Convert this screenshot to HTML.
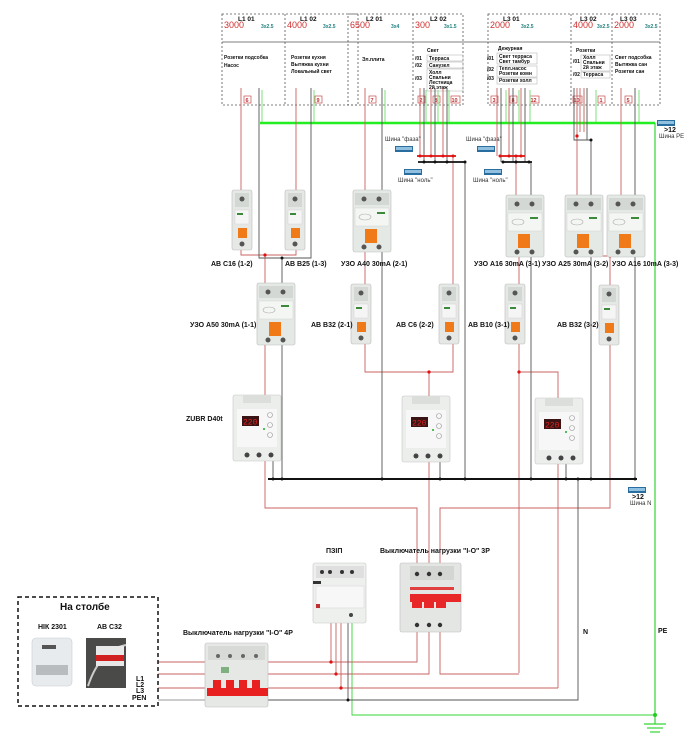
<!DOCTYPE html>
<html><head><meta charset="utf-8"><style>
html,body{margin:0;padding:0;background:#fff;}
svg{display:block;font-family:"Liberation Sans",sans-serif;}
.b{font-weight:bold;font-size:7px;fill:#111}
.s{font-size:6px;fill:#333}
</style></head><body>
<svg width="696" height="750" viewBox="0 0 696 750" xmlns="http://www.w3.org/2000/svg">
<defs>
<g id="ab1">
 <rect x="0" y="0" width="20" height="60" rx="2" fill="#e6e8e6" stroke="#b8bcb8" stroke-width="0.6"/>
 <rect x="3" y="3" width="14" height="14" fill="#d4d8d4"/>
 <circle cx="10" cy="9" r="2.5" fill="#555"/>
 <rect x="3" y="20" width="14" height="14" fill="#f4f5f4" stroke="#ccc" stroke-width="0.4"/>
 <rect x="5" y="23" width="6" height="2" fill="#3a8a3a"/>
 <rect x="6" y="38" width="9" height="10" fill="#f07a18"/>
 <circle cx="10" cy="54" r="2.5" fill="#555"/>
</g>
<g id="uzo">
 <rect x="0" y="0" width="38" height="62" rx="2" fill="#e5e9e5" stroke="#b8bcb8" stroke-width="0.6"/>
 <rect x="2" y="3" width="34" height="12" fill="#d4d8d4"/>
 <circle cx="11" cy="9" r="2.5" fill="#555"/><circle cx="26" cy="9" r="2.5" fill="#555"/>
 <rect x="2" y="18" width="34" height="18" fill="#f4f6f4" stroke="#ccc" stroke-width="0.4"/>
 <ellipse cx="12" cy="27" rx="6" ry="3" fill="none" stroke="#aaa" stroke-width="0.6"/>
 <rect x="24" y="22" width="8" height="2" fill="#3a8a3a"/>
 <rect x="12" y="39" width="12" height="14" fill="#f07a18"/>
 <circle cx="11" cy="57" r="2.5" fill="#555"/><circle cx="26" cy="57" r="2.5" fill="#555"/>
</g>
<g id="zubr">
 <rect x="0" y="0" width="48" height="66" rx="2" fill="#eceeec" stroke="#c4c6c4" stroke-width="0.6"/>
 <rect x="10" y="0" width="28" height="8" fill="#dcdedc"/>
 <rect x="4" y="14" width="40" height="38" fill="#f6f7f6"/>
 <rect x="9" y="21" width="17" height="10" fill="#3a1414"/>
 <text x="10" y="29.5" font-size="8" fill="#e02020" font-family="Liberation Mono,monospace">220</text>
 <circle cx="37" cy="20" r="2.5" fill="none" stroke="#999" stroke-width="0.6"/>
 <circle cx="37" cy="30" r="2.5" fill="none" stroke="#999" stroke-width="0.6"/>
 <circle cx="37" cy="40" r="2.5" fill="none" stroke="#999" stroke-width="0.6"/>
 <circle cx="31" cy="34" r="1" fill="#2a2"/>
 <circle cx="14" cy="60" r="2.5" fill="#444"/><circle cx="26" cy="60" r="2.5" fill="#444"/><circle cx="38" cy="60" r="2.5" fill="#444"/>
</g>
<g id="bus">
 <rect x="0" y="0" width="18" height="6" fill="#2a6ea0"/>
 <rect x="1" y="1" width="16" height="3" fill="#8fc0e0"/>
</g>
</defs>

<g fill="none" stroke="#555" stroke-width="0.8" stroke-dasharray="2,2">
 <rect x="222" y="14" width="136" height="91"/>
 <line x1="285" y1="14" x2="285" y2="105"/>
 <rect x="348" y="14" width="115" height="91"/>
 <line x1="413" y1="14" x2="413" y2="105"/>
 <rect x="488" y="14" width="172" height="91"/>
 <line x1="571" y1="14" x2="571" y2="105"/>
 <line x1="612" y1="14" x2="612" y2="105"/>
</g>
<line x1="222" y1="42" x2="660" y2="42" stroke="#555" stroke-width="0.8"/>
<g class="b" style="font-size:6.5px">
 <text x="238" y="21">L1 01</text><text x="300" y="21">L1 02</text>
 <text x="366" y="21">L2 01</text><text x="430" y="21">L2 02</text>
 <text x="503" y="21">L3 01</text><text x="580" y="21">L3 02</text><text x="620" y="21">L3 03</text>
</g>
<g font-size="9" fill="#d03030">
 <text x="224" y="28">3000</text><text x="287" y="28">4000</text><text x="350" y="28">6500</text>
 <text x="415" y="28">300</text><text x="490" y="28">2000</text><text x="573" y="28">4000</text><text x="614" y="28">2000</text>
</g>
<g font-size="5" fill="#208080" font-weight="bold">
 <text x="261" y="28">3x2.5</text><text x="323" y="28">3x2.5</text><text x="391" y="28">3x4</text>
 <text x="444" y="28">3x1.5</text><text x="521" y="28">3x2.5</text><text x="597" y="28">3x2.5</text><text x="645" y="28">3x2.5</text>
</g>
<g class="b" style="font-size:5px">
 <text x="224" y="59">Розетки подсобка</text><text x="224" y="67">Насос</text>
 <text x="291" y="59">Розетки кухня</text><text x="291" y="66">Вытяжка кухни</text><text x="291" y="73">Локальный свет</text>
 <text x="362" y="61">Эл.плита</text>
 <text x="427" y="52">Свет</text>
 <text x="415" y="60">/01</text><text x="415" y="67">/02</text><text x="415" y="80">/03</text>
 <text x="429" y="60">Терраса</text><text x="429" y="67">Санузел</text><text x="429" y="74">Холл</text><text x="429" y="79">Спальни</text><text x="429" y="84">Лестница</text><text x="429" y="89">2й этаж</text>
 <text x="498" y="50">Дежурная</text>
 <text x="487" y="60">/01</text><text x="487" y="71">/02</text><text x="487" y="80">/03</text>
 <text x="499" y="58">Свет терраса</text><text x="499" y="63">Свет тамбур</text><text x="499" y="70">Тепл.насос</text><text x="499" y="75">Розетки комн</text><text x="499" y="82">Розетки холл</text>
 <text x="576" y="52">Розетки</text>
 <text x="573" y="63">/01</text><text x="573" y="76">/02</text>
 <text x="583" y="59">Холл</text><text x="583" y="64">Спальни</text><text x="583" y="69">2й этаж</text><text x="583" y="76">Терраса</text>
 <text x="615" y="59">Свет подсобка</text><text x="615" y="66">Вытяжка сан</text><text x="615" y="73">Розетки сан</text>
</g>
<g fill="none" stroke="#aaa" stroke-width="0.5">
 <rect x="427" y="55" width="36" height="6"/><rect x="427" y="62" width="36" height="6"/><rect x="427" y="69" width="36" height="22"/>
 <rect x="497" y="53" width="40" height="11"/><rect x="497" y="66" width="40" height="11"/><rect x="497" y="78" width="40" height="6"/>
 <rect x="581" y="55" width="29" height="16"/><rect x="581" y="72" width="29" height="6"/>
</g>
<g font-size="5.5" fill="#c03030" font-weight="bold">
 <rect x="244" y="96" width="7" height="7" fill="#fff" stroke="#c03030" stroke-width="0.6"/><text x="245.5" y="102">6</text>
 <rect x="315" y="96" width="7" height="7" fill="#fff" stroke="#c03030" stroke-width="0.6"/><text x="316.5" y="102">9</text>
 <rect x="369" y="96" width="7" height="7" fill="#fff" stroke="#c03030" stroke-width="0.6"/><text x="370.5" y="102">7</text>
 <rect x="418" y="96" width="7" height="7" fill="#fff" stroke="#c03030" stroke-width="0.6"/><text x="419.5" y="102">2</text>
 <rect x="433" y="96" width="7" height="7" fill="#fff" stroke="#c03030" stroke-width="0.6"/><text x="434.5" y="102">8</text>
 <rect x="451" y="96" width="9" height="7" fill="#fff" stroke="#c03030" stroke-width="0.6"/><text x="451.5" y="102">10</text>
 <rect x="491" y="96" width="7" height="7" fill="#fff" stroke="#c03030" stroke-width="0.6"/><text x="492.5" y="102">3</text>
 <rect x="510" y="96" width="7" height="7" fill="#fff" stroke="#c03030" stroke-width="0.6"/><text x="511.5" y="102">8</text>
 <rect x="530" y="96" width="9" height="7" fill="#fff" stroke="#c03030" stroke-width="0.6"/><text x="530.5" y="102">12</text>
 <rect x="573" y="96" width="9" height="7" fill="#fff" stroke="#c03030" stroke-width="0.6"/><text x="573.5" y="102">10</text>
 <rect x="598" y="96" width="7" height="7" fill="#fff" stroke="#c03030" stroke-width="0.6"/><text x="599.5" y="102">1</text>
 <rect x="625" y="96" width="7" height="7" fill="#fff" stroke="#c03030" stroke-width="0.6"/><text x="626.5" y="102">5</text>
</g>

<g stroke="#7ee07e" stroke-width="1" fill="none">
 <line x1="262" y1="90" x2="262" y2="123"/><line x1="314" y1="90" x2="314" y2="123"/><line x1="385" y1="90" x2="385" y2="123"/>
 <line x1="426" y1="90" x2="426" y2="123"/><line x1="438" y1="90" x2="438" y2="123"/><line x1="449" y1="90" x2="449" y2="123"/>
 <line x1="506" y1="90" x2="506" y2="123"/><line x1="519" y1="90" x2="519" y2="123"/><line x1="530" y1="90" x2="530" y2="123"/>
 <line x1="584" y1="90" x2="584" y2="123"/><line x1="596" y1="90" x2="596" y2="123"/><line x1="639" y1="90" x2="639" y2="123"/>
</g>
<g stroke="#33d633" stroke-width="1.2" fill="none">
 <line x1="655" y1="123" x2="655" y2="715"/>
 <polyline points="352,623 352,715 655,715" stroke-width="0.9"/>
 <line x1="644" y1="724" x2="666" y2="724"/><line x1="647" y1="728" x2="663" y2="728"/><line x1="650" y1="732" x2="660" y2="732"/>
 <line x1="655" y1="715" x2="655" y2="724"/>
</g>
<line x1="260" y1="123" x2="655" y2="123" stroke="#22ee22" stroke-width="2.5"/>
<g fill="#22cc22"><circle cx="655" cy="715" r="2"/></g>

<g stroke="#c86060" stroke-width="0.9" fill="none">
 <line x1="241" y1="88" x2="241" y2="190"/><line x1="296" y1="88" x2="296" y2="190"/>
 <polyline points="241,250 241,255 296,255 296,250"/><line x1="265" y1="255" x2="265" y2="283"/>
 <line x1="365" y1="88" x2="365" y2="190"/>
 <line x1="420" y1="88" x2="420" y2="156"/><line x1="431" y1="88" x2="431" y2="156"/><line x1="443" y1="88" x2="443" y2="156"/>
 <line x1="453" y1="156" x2="453" y2="284"/>
 <line x1="365" y1="252" x2="365" y2="284"/>
 <polyline points="365,342 365,372 453,372 453,342"/><line x1="429" y1="372" x2="429" y2="396"/>
 <line x1="497" y1="88" x2="497" y2="156"/><line x1="509" y1="88" x2="509" y2="156"/><line x1="521" y1="88" x2="521" y2="156"/>
 <line x1="516" y1="156" x2="516" y2="195"/>
 <line x1="519" y1="255" x2="519" y2="284"/>
 <line x1="519" y1="342" x2="519" y2="673"/>
 <polyline points="519,372 558,372 558,398"/>
 <line x1="577" y1="88" x2="577" y2="136"/><line x1="580" y1="88" x2="580" y2="132"/><line x1="584" y1="88" x2="584" y2="132"/>
 <polyline points="577,136 577,195"/><line x1="621" y1="88" x2="621" y2="195"/>
 <polyline points="578,255 578,256 621,256 621,255"/><line x1="610" y1="256" x2="610" y2="285"/>
 <line x1="265" y1="345" x2="265" y2="395"/>
 <polyline points="265,460 265,508 417,508 417,563"/>
 <line x1="429" y1="460" x2="429" y2="563"/>
 <polyline points="440,563 440,508 610,508 610,343"/>
 <line x1="558" y1="464" x2="558" y2="688"/>
 <polyline points="417,632 417,662 268,662"/>
 <polyline points="429,632 429,674 268,674"/>
 <polyline points="440,632 440,674 519,674"/>
 <line x1="268" y1="688" x2="558" y2="688"/>
 <line x1="158" y1="662" x2="205" y2="662"/><line x1="158" y1="674" x2="205" y2="674"/><line x1="158" y1="688" x2="205" y2="688"/>
 <line x1="331" y1="623" x2="331" y2="662"/><line x1="336" y1="623" x2="336" y2="674"/><line x1="341" y1="623" x2="341" y2="688"/>
</g>
<g stroke="#555" stroke-width="0.9" fill="none">
 <polyline points="259,88 259,258 311,258 311,88"/><line x1="282" y1="258" x2="282" y2="283"/>
 <line x1="382" y1="88" x2="382" y2="479"/>
 <line x1="424" y1="88" x2="424" y2="162"/><line x1="435" y1="88" x2="435" y2="162"/><line x1="447" y1="88" x2="447" y2="162"/>
 <line x1="465" y1="162" x2="465" y2="479"/>
 <line x1="501" y1="88" x2="501" y2="162"/><line x1="513" y1="88" x2="513" y2="162"/><line x1="525" y1="88" x2="525" y2="162"/>
 <line x1="531" y1="162" x2="531" y2="479"/>
 <polyline points="574,88 574,140 591,140 591,479"/><line x1="587" y1="88" x2="587" y2="140"/>
 <line x1="635" y1="88" x2="635" y2="479"/>
 <line x1="282" y1="345" x2="282" y2="479"/>
 <line x1="273" y1="460" x2="273" y2="479"/><line x1="440" y1="460" x2="440" y2="479"/><line x1="566" y1="464" x2="566" y2="479"/>
 <polyline points="578,479 578,700 268,700"/>
 <line x1="158" y1="700" x2="205" y2="700" stroke="#999"/>
 <line x1="348" y1="623" x2="348" y2="700"/>
</g>
<line x1="268" y1="479" x2="637" y2="479" stroke="#111" stroke-width="2"/>
<g fill="#111">
 <circle cx="273" cy="479" r="1.5"/><circle cx="282" cy="479" r="1.5"/><circle cx="382" cy="479" r="1.5"/><circle cx="440" cy="479" r="1.5"/>
 <circle cx="465" cy="479" r="1.5"/><circle cx="531" cy="479" r="1.5"/><circle cx="566" cy="479" r="1.5"/><circle cx="578" cy="479" r="1.5"/>
 <circle cx="591" cy="479" r="1.5"/><circle cx="635" cy="479" r="1.5"/><circle cx="282" cy="258" r="1.5"/><circle cx="591" cy="140" r="1.5"/>
 <circle cx="348" cy="700" r="1.5"/>
</g>
<line x1="417" y1="156" x2="456" y2="156" stroke="#e01010" stroke-width="1.8"/>
<line x1="418" y1="162" x2="466" y2="162" stroke="#111" stroke-width="1.8"/>
<line x1="499" y1="156" x2="525" y2="156" stroke="#e01010" stroke-width="1.8"/>
<line x1="502" y1="162" x2="532" y2="162" stroke="#111" stroke-width="1.8"/>
<g fill="#e01010">
 <circle cx="420" cy="156" r="1.5"/><circle cx="431" cy="156" r="1.5"/><circle cx="443" cy="156" r="1.5"/><circle cx="453" cy="156" r="1.5"/>
 <circle cx="500" cy="156" r="1.5"/><circle cx="509" cy="156" r="1.5"/><circle cx="516" cy="156" r="1.5"/><circle cx="521" cy="156" r="1.5"/>
 <circle cx="265" cy="255" r="1.6"/><circle cx="429" cy="372" r="1.6"/><circle cx="519" cy="372" r="1.6"/><circle cx="610" cy="256" r="1.6"/><circle cx="577" cy="136" r="1.6"/>
 <circle cx="331" cy="662" r="1.6"/><circle cx="336" cy="674" r="1.6"/><circle cx="341" cy="688" r="1.6"/>
</g>
<g fill="#111"><circle cx="424" cy="162" r="1.5"/><circle cx="435" cy="162" r="1.5"/><circle cx="447" cy="162" r="1.5"/><circle cx="465" cy="162" r="1.5"/>
<circle cx="503" cy="162" r="1.5"/><circle cx="516" cy="162" r="1.5"/><circle cx="529" cy="162" r="1.5"/></g>
<use href="#bus" x="395" y="146"/><use href="#bus" x="404" y="169"/>
<use href="#bus" x="477" y="146"/><use href="#bus" x="484" y="169"/>
<use href="#bus" x="657" y="120"/><use href="#bus" x="628" y="487"/>
<g class="s" font-size="5.5">
 <text x="385" y="141">Шина "фаза"</text><text x="398" y="182">Шина "ноль"</text>
 <text x="466" y="141">Шина "фаза"</text><text x="473" y="182">Шина "ноль"</text>
 <text x="659" y="138">Шина PE</text><text x="630" y="505">Шина N</text>
</g>
<g class="b" font-size="5.5"><text x="664" y="132">&gt;12</text><text x="632" y="499">&gt;12</text></g>

<use href="#ab1" x="232" y="190"/><use href="#ab1" x="285" y="190"/>
<use href="#uzo" x="353" y="190"/><use href="#uzo" x="506" y="195"/><use href="#uzo" x="565" y="195"/><use href="#uzo" x="607" y="195"/>
<use href="#uzo" x="257" y="283"/>
<use href="#ab1" x="351" y="284"/><use href="#ab1" x="439" y="284"/><use href="#ab1" x="505" y="284"/><use href="#ab1" x="599" y="285"/>
<use href="#zubr" x="233" y="395"/><use href="#zubr" x="402" y="396"/><use href="#zubr" x="535" y="398"/>

<g class="b">
 <text x="211" y="266">АВ С16 (1-2)</text><text x="285" y="266">АВ В25 (1-3)</text><text x="341" y="266">УЗО А40 30mA (2-1)</text>
 <text x="474" y="266">УЗО А16 30mA (3-1)</text><text x="542" y="266">УЗО А25 30mA (3-2)</text><text x="612" y="266">УЗО А16 10mA (3-3)</text>
 <text x="190" y="327">УЗО А50 30mA (1-1)</text><text x="311" y="327">АВ В32 (2-1)</text><text x="396" y="327">АВ С6 (2-2)</text>
 <text x="468" y="327">АВ В10 (3-1)</text><text x="557" y="327">АВ В32 (3-2)</text>
 <text x="186" y="421">ZUBR D40t</text>
 <text x="326" y="553">ПЗІП</text><text x="380" y="553">Выключатель нагрузки "I-O" 3P</text>
 <text x="183" y="635">Выключатель нагрузки "I-O" 4P</text>
 <text x="583" y="634">N</text><text x="658" y="633">PE</text>
 <text x="136" y="681">L1</text><text x="136" y="687">L2</text><text x="136" y="693">L3</text><text x="132" y="700">PEN</text>
 <text x="38" y="629">НІК 2301</text><text x="97" y="629">АВ С32</text>
</g>
<text x="60" y="610" font-weight="bold" font-size="10" fill="#111">На столбе</text>

<rect x="313" y="563" width="53" height="60" rx="2" fill="#eef0ee" stroke="#c4c6c4" stroke-width="0.6"/>
<rect x="316" y="566" width="48" height="12" fill="#dedfde"/>
<g fill="#333"><circle cx="322" cy="572" r="2"/><circle cx="330" cy="572" r="2"/><circle cx="342" cy="572" r="2"/><circle cx="352" cy="572" r="2"/></g>
<rect x="313" y="581" width="8" height="3" fill="#333"/>
<rect x="316" y="586" width="48" height="22" fill="#f6f7f6" stroke="#ccc" stroke-width="0.4"/>
<rect x="316" y="604" width="4" height="4" fill="#c03030"/>
<circle cx="351" cy="615" r="2" fill="#444"/>
<rect x="400" y="563" width="61" height="69" rx="2" fill="#e4e6e4" stroke="#bbb" stroke-width="0.6"/>
<rect x="410" y="566" width="44" height="14" fill="#d4d6d4"/>
<g fill="#333"><circle cx="417" cy="574" r="2.2"/><circle cx="429" cy="574" r="2.2"/><circle cx="440" cy="574" r="2.2"/><circle cx="417" cy="625" r="2.2"/><circle cx="429" cy="625" r="2.2"/><circle cx="440" cy="625" r="2.2"/></g>
<rect x="410" y="587" width="44" height="3" fill="#e04040"/>
<rect x="410" y="594" width="51" height="8" fill="#e82828"/>
<rect x="412" y="602" width="10" height="6" fill="#e82828"/><rect x="424" y="602" width="10" height="6" fill="#e82828"/><rect x="436" y="602" width="10" height="6" fill="#e82828"/>
<rect x="205" y="643" width="63" height="64" rx="2" fill="#e6e8e6" stroke="#bbb" stroke-width="0.6"/>
<rect x="208" y="646" width="57" height="14" fill="#d8dad8"/>
<g fill="#666"><circle cx="218" cy="656" r="2"/><circle cx="230" cy="656" r="2"/><circle cx="243" cy="656" r="2"/><circle cx="256" cy="656" r="2"/></g>
<rect x="221" y="667" width="8" height="6" fill="#3a8a3a" opacity="0.6"/>
<rect x="207" y="688" width="61" height="8" fill="#e82020"/>
<rect x="213" y="680" width="8" height="9" fill="#e82020"/><rect x="226" y="680" width="8" height="9" fill="#e82020"/><rect x="239" y="680" width="8" height="9" fill="#e82020"/><rect x="252" y="680" width="8" height="9" fill="#e82020"/>
<rect x="18" y="597" width="140" height="109" fill="none" stroke="#111" stroke-width="1.5" stroke-dasharray="4,3"/>
<rect x="32" y="638" width="40" height="48" rx="4" fill="#e8ebee" stroke="#c8ccd0" stroke-width="0.6"/>
<rect x="42" y="645" width="14" height="4" fill="#555"/>
<rect x="36" y="665" width="32" height="10" fill="#b8bcbe"/>
<rect x="86" y="638" width="40" height="50" fill="#4a4a48"/>
<path d="M88 686 Q100 650 126 645" stroke="#ccc" stroke-width="2" fill="none"/>
<rect x="96" y="646" width="28" height="20" fill="#e8e8e8"/>
<rect x="96" y="655" width="28" height="6" fill="#d02020"/>
</svg>
</body></html>
